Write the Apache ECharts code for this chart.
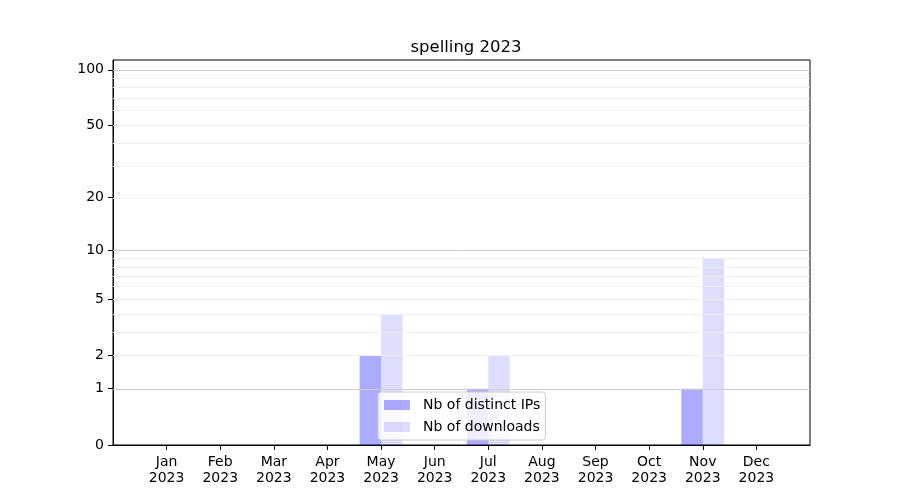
<!DOCTYPE html>
<html>
<head>
<meta charset="utf-8">
<script src="https://cdn.jsdelivr.net/npm/echarts@6/dist/echarts.min.js"></script>
<style>html,body{margin:0;padding:0;background:#fff}#c{width:900px;height:500px}</style>
</head>
<body>
<div id="c"></div>
<script>
var title = 'spelling 2023';
var months = ['Jan','Feb','Mar','Apr','May','Jun','Jul','Aug','Sep','Oct','Nov','Dec'];
var year = '2023';
var distinctIPs = [0,0,0,0,2,0,1,0,0,0,1,0];
var downloads = [0,0,0,0,4,0,2,0,0,0,9,0];
var yTickLabels = [0,1,2,5,10,20,50,100];
var majorGrid = [1,10,100];
var minorGrid = [2,3,4,5,6,7,8,9,20,30,40,50,60,70,80,90];
var yMaxValue = 113;

function tf(v){ return Math.log10(1 + v); }
function inv(t){ return Math.round(Math.pow(10, t) - 1); }

var cats = [''].concat(months.map(function(m){ return m + '\n' + year; })).concat(['']);
function pad(arr){ return [null].concat(arr.map(tf)).concat([null]); }

var font = 'DejaVu Sans';
var chart = echarts.init(document.getElementById('c'));
var gridLines = majorGrid.map(function(v){ return {yAxis: tf(v), lineStyle:{color:'#cccccc', width:1, type:'solid'}}; })
  .concat(minorGrid.map(function(v){ return {yAxis: tf(v), lineStyle:{color:'#eeeeee', width:1, type:'solid'}}; }));

chart.setOption({
  animation: false,
  title: {text: title, left: 461, textAlign: 'center', top: 34, textStyle:{fontFamily: font, fontSize: 16.5, fontWeight:'normal', color:'#000'}},
  grid: {left: 113, right: 90, top: 60, bottom: 55, show: true, borderColor:'#000', borderWidth:1, backgroundColor:'transparent'},
  legend: {
    orient: 'vertical', left: 378, top: 392,
    padding: [6, 5, 6, 6],
    backgroundColor: 'rgba(255,255,255,0.8)', borderColor: '#cccccc', borderWidth: 1, borderRadius: 3,
    itemWidth: 26, itemHeight: 10, itemGap: 8,
    icon: 'rect',
    textStyle: {fontFamily: font, fontSize: 14, color:'#000', padding: [0, 0, 0, 8]},
    data: ['Nb of distinct IPs', 'Nb of downloads']
  },
  xAxis: {
    type: 'category', data: cats, boundaryGap: false,
    axisLine: {show: true, lineStyle:{color:'#000'}},
    axisTick: {show: true, length: 5, lineStyle:{color:'#000'}, interval: function(i, v){ return v !== ''; }},
    axisLabel: {interval: 0, fontFamily: font, fontSize: 14, color:'#000', lineHeight: 16, margin: 9},
    splitLine: {show: false}
  },
  yAxis: {
    type: 'value', min: 0, max: tf(yMaxValue),
    axisLine: {show: true, lineStyle:{color:'#000'}},
    axisTick: {show: true, length: 5, lineStyle:{color:'#000'}, customValues: yTickLabels.map(tf)},
    axisLabel: {fontFamily: font, fontSize: 14, color:'#000', margin: 9, customValues: yTickLabels.map(tf), formatter: function(v){ return String(inv(v)); }},
    splitLine: {show: false}
  },
  series: [
    {name: 'grid', type: 'line', data: [], silent: true, z: 1,
     markLine: {silent: true, symbol: ['none','none'], label:{show:false}, data: gridLines, animation:false}},
    {name: 'Nb of distinct IPs', type: 'bar', data: pad(distinctIPs), barWidth: '40%', barGap: '0%',
     itemStyle: {color: 'rgba(0,0,255,0.33)'}, z: 2},
    {name: 'Nb of downloads', type: 'bar', data: pad(downloads), barWidth: '40%', barGap: '0%',
     itemStyle: {color: 'rgba(0,0,255,0.135)'}, z: 2}
  ]
});
</script>
</body>
</html>
